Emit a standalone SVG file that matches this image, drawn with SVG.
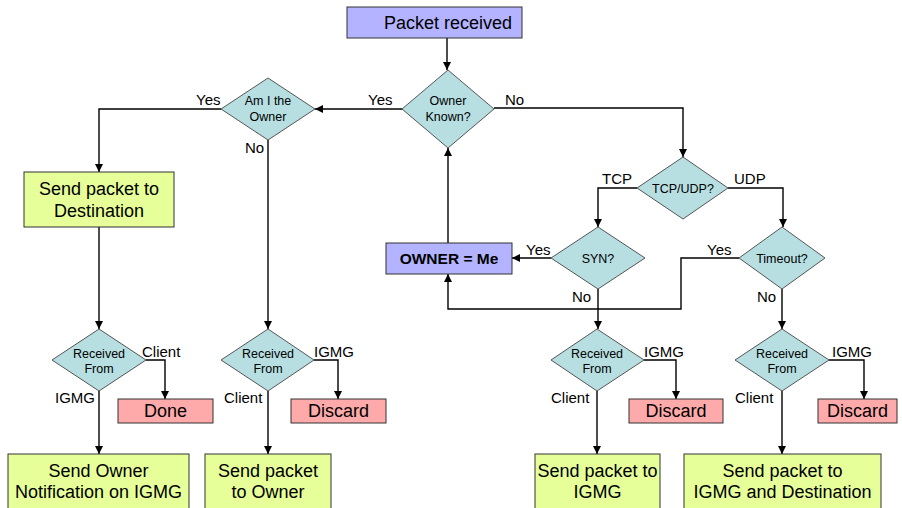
<svg xmlns="http://www.w3.org/2000/svg" width="902" height="508" viewBox="0 0 902 508">
  <defs>
    <marker id="arrow" viewBox="0 0 10 10" refX="10" refY="5" markerWidth="8" markerHeight="8" markerUnits="userSpaceOnUse" orient="auto">
      <path d="M0,0 L10,5 L0,10 z" fill="#000"/>
    </marker>
    <style>
      text { font-family: "Liberation Sans", Arial, sans-serif; fill: #000; }
      .start { fill: #b3b3ff; stroke: #333; stroke-width: 1; }
      .action { fill: #e6ff99; stroke: #333; stroke-width: 1; }
      .stop { fill: #ffaaaa; stroke: #333; stroke-width: 1; }
      .decision { fill: #b7dfe1; stroke: #555; stroke-width: 1; }
      .big { font-size: 18px; text-anchor: middle; }
      .dtext { font-size: 12.5px; text-anchor: middle; }
      .lbl { font-size: 15px; }
      .bold { font-size: 15.5px; font-weight: bold; text-anchor: middle; }
      .wire { fill: none; stroke: #000; stroke-width: 1.4; }
      .arr { marker-end: url(#arrow); }
    </style>
  </defs>
  <rect width="902" height="508" fill="#fff"/>

  <!-- connectors -->
  <g id="connectors">
    <path class="wire arr" d="M447,38 V70"/>
    <path class="wire arr" d="M402,109 H315"/>
    <path class="wire arr" d="M221,109 H99 V172"/>
    <path class="wire arr" d="M99,227 V329"/>
    <path class="wire arr" d="M268,140 V329"/>
    <path class="wire arr" d="M146,360 H165 V399"/>
    <path class="wire arr" d="M99,391 V454"/>
    <path class="wire arr" d="M314,360 H338 V399"/>
    <path class="wire arr" d="M268,391 V454"/>
    <path class="wire arr" d="M494,108 H683 V157"/>
    <path class="wire arr" d="M637,188 H598 V227"/>
    <path class="wire arr" d="M728,188 H783 V227"/>
    <path class="wire arr" d="M551,258 H512"/>
    <path class="wire arr" d="M448,243 V148"/>
    <path class="wire arr" d="M739,258 H681 V309 H448 V274"/>
    <path class="wire arr" d="M598,289 V329"/>
    <path class="wire arr" d="M782,289 V329"/>
    <path class="wire arr" d="M644,360 H676 V399"/>
    <path class="wire arr" d="M597,391 V454"/>
    <path class="wire arr" d="M829,360 H864 V399"/>
    <path class="wire arr" d="M782,391 V454"/>
  </g>

  <!-- branch labels -->
  <g id="labels" class="lbl">
    <text x="368" y="105">Yes</text>
    <text x="196" y="105">Yes</text>
    <text x="505" y="105">No</text>
    <text x="245" y="153">No</text>
    <text x="602" y="184">TCP</text>
    <text x="734" y="184">UDP</text>
    <text x="526" y="255">Yes</text>
    <text x="707" y="255">Yes</text>
    <text x="572" y="302">No</text>
    <text x="757" y="302">No</text>
    <text x="142" y="357">Client</text>
    <text x="55" y="403">IGMG</text>
    <text x="314" y="357">IGMG</text>
    <text x="224" y="403">Client</text>
    <text x="644" y="357">IGMG</text>
    <text x="551" y="403">Client</text>
    <text x="832" y="357">IGMG</text>
    <text x="735" y="403">Client</text>
  </g>

  <g id="packet-received">
    <rect class="start" x="347" y="7" width="175" height="31"/>
    <text class="big" x="448" y="29">Packet received</text>
  </g>

  <g id="owner-known">
    <polygon class="decision" points="448,70 494,109 448,148 402,109"/>
    <text class="dtext" x="448" y="105">Owner</text>
    <text class="dtext" x="448" y="121">Known?</text>
  </g>

  <g id="am-i-owner">
    <polygon class="decision" points="268,78 315,109 268,140 221,109"/>
    <text class="dtext" x="268" y="105">Am I the</text>
    <text class="dtext" x="268" y="121">Owner</text>
  </g>

  <g id="send-destination">
    <rect class="action" x="24" y="172" width="150" height="55"/>
    <text class="big" x="99" y="195">Send packet to</text>
    <text class="big" x="99" y="217">Destination</text>
  </g>

  <g id="tcp-udp">
    <polygon class="decision" points="683,157 728,188 683,219 637,188"/>
    <text class="dtext" x="683" y="193">TCP/UDP?</text>
  </g>

  <g id="syn">
    <polygon class="decision" points="598,227 645,258 598,289 551,258"/>
    <text class="dtext" x="598" y="263">SYN?</text>
  </g>

  <g id="timeout">
    <polygon class="decision" points="782,227 825,258 782,289 739,258"/>
    <text class="dtext" x="782" y="263">Timeout?</text>
  </g>

  <g id="owner-me">
    <rect class="start" x="386" y="243" width="126" height="31"/>
    <text class="bold" x="449" y="264">OWNER = Me</text>
  </g>

  <g id="received-from-1">
    <polygon class="decision" points="99,329 146,360 99,391 52,360"/>
    <text class="dtext" x="99" y="358">Received</text>
    <text class="dtext" x="99" y="373">From</text>
  </g>

  <g id="received-from-2">
    <polygon class="decision" points="268,329 314,360 268,391 221,360"/>
    <text class="dtext" x="268" y="358">Received</text>
    <text class="dtext" x="268" y="373">From</text>
  </g>

  <g id="received-from-3">
    <polygon class="decision" points="597,329 644,360 597,391 551,360"/>
    <text class="dtext" x="597" y="358">Received</text>
    <text class="dtext" x="597" y="373">From</text>
  </g>

  <g id="received-from-4">
    <polygon class="decision" points="782,329 829,360 782,391 735,360"/>
    <text class="dtext" x="782" y="358">Received</text>
    <text class="dtext" x="782" y="373">From</text>
  </g>

  <g id="done">
    <rect class="stop" x="118" y="399" width="95" height="24"/>
    <text class="big" x="165.5" y="417">Done</text>
  </g>

  <g id="discard-1">
    <rect class="stop" x="291" y="399" width="95" height="24"/>
    <text class="big" x="338.5" y="417">Discard</text>
  </g>

  <g id="discard-2">
    <rect class="stop" x="629" y="399" width="94" height="24"/>
    <text class="big" x="676" y="417">Discard</text>
  </g>

  <g id="discard-3">
    <rect class="stop" x="818" y="399" width="79" height="24"/>
    <text class="big" x="857.5" y="417">Discard</text>
  </g>

  <g id="send-owner-notification">
    <rect class="action" x="8" y="454" width="181" height="60"/>
    <text class="big" x="98.5" y="477">Send Owner</text>
    <text class="big" x="98.5" y="498">Notification on IGMG</text>
  </g>

  <g id="send-to-owner">
    <rect class="action" x="205" y="454" width="126" height="60"/>
    <text class="big" x="268" y="477">Send packet</text>
    <text class="big" x="268" y="498">to Owner</text>
  </g>

  <g id="send-to-igmg">
    <rect class="action" x="535" y="454" width="125" height="60"/>
    <text class="big" x="597.5" y="477">Send packet to</text>
    <text class="big" x="597.5" y="498">IGMG</text>
  </g>

  <g id="send-to-igmg-destination">
    <rect class="action" x="684" y="454" width="197" height="60"/>
    <text class="big" x="782.5" y="477">Send packet to</text>
    <text class="big" x="782.5" y="498">IGMG and Destination</text>
  </g>
</svg>
